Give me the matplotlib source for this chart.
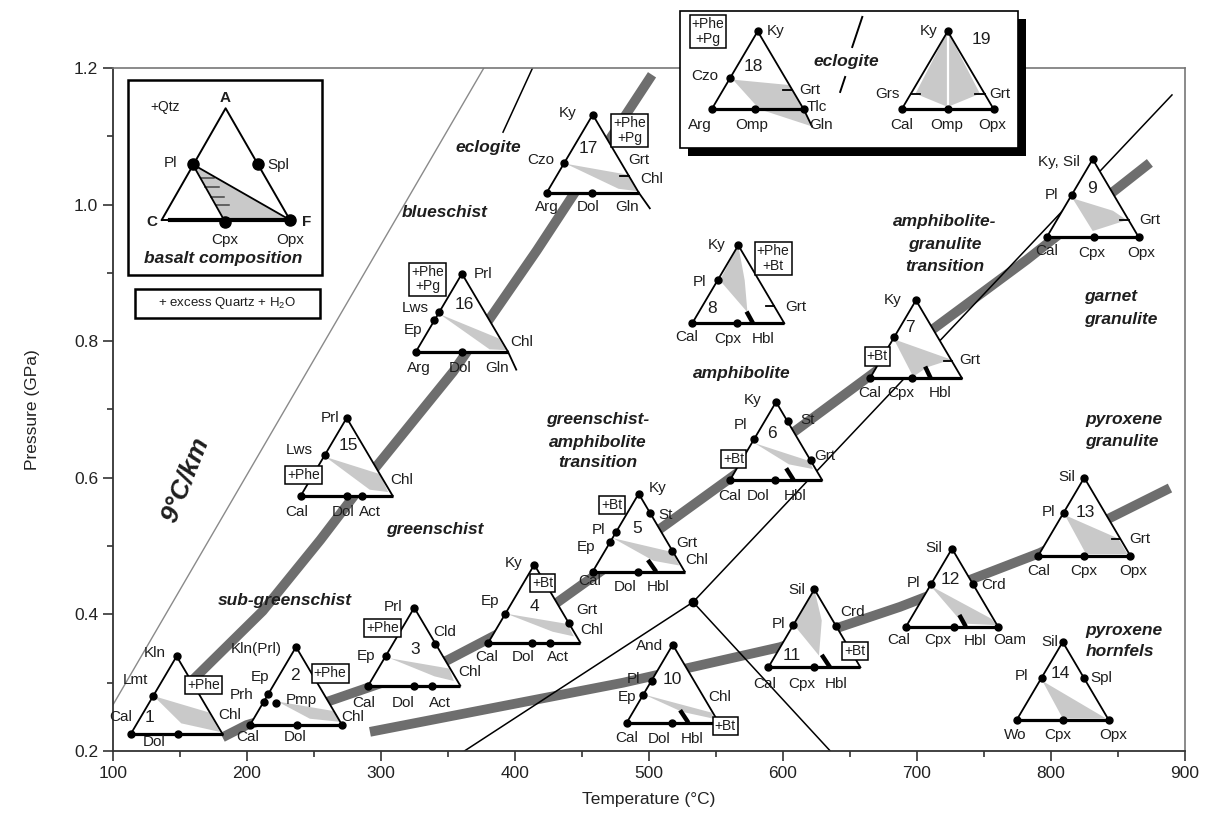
import matplotlib
matplotlib.use("Agg")
import matplotlib.pyplot as plt
from matplotlib.patches import Polygon, Rectangle

plt.rcParams['font.family'] = ['Liberation Sans', 'DejaVu Sans']
plt.rcParams['mathtext.fontset'] = 'custom'
plt.rcParams['mathtext.rm'] = 'Liberation Sans'
plt.rcParams['mathtext.it'] = 'Liberation Sans:italic'
plt.rcParams['mathtext.bf'] = 'Liberation Sans:bold'

# ---------------- axes data ----------------
x_ticks = [100, 200, 300, 400, 500, 600, 700, 800, 900]
x_minor = [150, 250, 350, 450, 550, 650, 750, 850]
y_ticks = [0.2, 0.4, 0.6, 0.8, 1.0, 1.2]
y_minor = [0.3, 0.5, 0.7, 0.9, 1.1]
y_tick_labels = ["0.2", "0.4", "0.6", "0.8", "1.0", "1.2"]

# ---------------- P-T paths (thick grey) ----------------
hp_T = [157.7, 212.0, 255.0, 297.0, 354.0, 416.6, 502.5]
hp_P = [0.300, 0.405, 0.509, 0.617, 0.755, 0.933, 1.190]
mp_T = [182, 200, 260, 350, 430, 514, 600, 700, 782, 874]
mp_P = [0.220, 0.238, 0.272, 0.333, 0.415, 0.533, 0.655, 0.800, 0.919, 1.061]
lp_T = [292, 481, 598, 687.5, 792, 889]
lp_P = [0.228, 0.300, 0.352, 0.411, 0.490, 0.585]

# 9 C/km geotherm
geo_T = [98, 377]
geo_P = [0.26, 1.2]

# Al2SiO5 triple point and reactions
tp_T, tp_P = 533.1, 0.418
kyand_T = [533.1, 362.5]; kyand_P = [0.418, 0.2]
andsil_T = [533.1, 635.5]; andsil_P = [0.418, 0.2]
kysil_T = [533.1, 890.5]; kysil_P = [0.418, 1.1605]
eclo_T = [391.3, 413.7]; eclo_P = [1.106, 1.2015]

# ---------------- triangles ----------------
W, H = 68.7, 0.1142
tri_num = [str(i) for i in range(1, 20)]
tri_T0 = [113.4, 202.5, 290.7, 380.3, 458.2, 560.7, 665.1, 532.5, 797.0, 483.6,
          589.3, 692.0, 790.7, 774.6, 240.3, 326.3, 423.9, 547.0, 688.8]
tri_P0 = [0.2245, 0.2381, 0.2956, 0.3586, 0.4625, 0.5968, 0.7457, 0.8262, 0.9521, 0.2414,
          0.3225, 0.3820, 0.4859, 0.2454, 0.5734, 0.7846, 1.0174, 1.1395, 1.1395]
tri_num_uv = [(0.21, 0.21), (0.49, 0.63), (0.51, 0.46), (0.50, 0.46), (0.48, 0.56),
              (0.46, 0.60), (0.43, 0.65), (0.21, 0.19), (0.49, 0.62), (0.49, 0.55),
              (0.25, 0.15), (0.48, 0.60), (0.51, 0.56), (0.47, 0.60), (0.52, 0.65),
              (0.53, 0.60), (0.45, 0.57), (0.45, 0.55), (0.87, 0.89)]
tri_labels = [
    [("Kln", 0.26, 1.04), ("Lmt", 0.05, 0.70), ("Cal", -0.11, 0.22), ("Dol", 0.26, -0.10), ("Chl", 1.08, 0.25)],
    [("Kln(Prl)", 0.065, 0.98), ("Ep", 0.11, 0.62), ("Prh", -0.09, 0.385), ("Pmp", 0.56, 0.32),
     ("Cal", -0.02, -0.15), ("Dol", 0.49, -0.15), ("Chl", 1.12, 0.10)],
    [("Prl", 0.27, 1.01), ("Cld", 0.83, 0.69), ("Ep", -0.02, 0.38), ("Chl", 1.10, 0.18),
     ("Cal", -0.05, -0.22), ("Dol", 0.38, -0.22), ("Act", 0.78, -0.22)],
    [("Ky", 0.27, 1.02), ("Ep", 0.02, 0.53), ("Grt", 1.07, 0.42), ("Chl", 1.12, 0.16),
     ("Cal", -0.02, -0.18), ("Dol", 0.38, -0.18), ("Act", 0.76, -0.18)],
    [("Ky", 0.71, 1.07), ("St", 0.79, 0.73), ("Pl", 0.06, 0.53), ("Ep", -0.07, 0.32), ("Grt", 1.02, 0.37),
     ("Chl", 1.13, 0.15), ("Cal", -0.03, -0.12), ("Dol", 0.35, -0.20), ("Hbl", 0.71, -0.20)],
    [("Ky", 0.25, 1.03), ("St", 0.84, 0.77), ("Pl", 0.11, 0.71), ("Grt", 1.03, 0.31),
     ("Cal", 0.0, -0.20), ("Dol", 0.31, -0.20), ("Hbl", 0.71, -0.20)],
    [("Ky", 0.25, 1.00), ("Grt", 1.09, 0.24), ("Cal", 0.0, -0.19), ("Cpx", 0.34, -0.19), ("Hbl", 0.76, -0.19)],
    [("Ky", 0.27, 1.00), ("Pl", 0.08, 0.53), ("Grt", 1.12, 0.21), ("Cal", -0.06, -0.17),
     ("Cpx", 0.39, -0.20), ("Hbl", 0.77, -0.20)],
    [("Ky, Sil", 0.13, 0.97), ("Pl", 0.05, 0.54), ("Grt", 1.12, 0.22), ("Cal", 0.0, -0.18),
     ("Cpx", 0.49, -0.20), ("Opx", 1.03, -0.20)],
    [("And", 0.25, 0.98), ("Pl", 0.07, 0.56), ("Ep", 0.0, 0.33), ("Chl", 1.01, 0.33),
     ("Cal", 0.0, -0.20), ("Dol", 0.35, -0.21), ("Hbl", 0.71, -0.21)],
    [("Sil", 0.31, 0.99), ("Crd", 0.91, 0.71), ("Pl", 0.11, 0.56), ("Cal", -0.04, -0.21),
     ("Cpx", 0.36, -0.21), ("Hbl", 0.74, -0.21)],
    [("Sil", 0.30, 1.01), ("Pl", 0.08, 0.56), ("Crd", 0.95, 0.53), ("Cal", -0.08, -0.17),
     ("Cpx", 0.35, -0.17), ("Hbl", 0.75, -0.19), ("Oam", 1.13, -0.17)],
    [("Sil", 0.31, 1.01), ("Pl", 0.11, 0.56), ("Grt", 1.10, 0.22), ("Cal", 0.0, -0.20),
     ("Cpx", 0.49, -0.20), ("Opx", 1.03, -0.20)],
    [("Sil", 0.36, 1.00), ("Pl", 0.05, 0.56), ("Spl", 0.92, 0.54), ("Wo", -0.02, -0.19),
     ("Cpx", 0.45, -0.19), ("Opx", 1.05, -0.19)],
    [("Prl", 0.32, 1.00), ("Lws", -0.01, 0.59), ("Chl", 1.10, 0.21), ("Cal", -0.04, -0.21),
     ("Dol", 0.46, -0.21), ("Act", 0.75, -0.21)],
    [("Prl", 0.73, 1.00), ("Lws", -0.01, 0.56), ("Ep", -0.03, 0.28), ("Chl", 1.15, 0.13),
     ("Arg", 0.03, -0.21), ("Dol", 0.48, -0.21), ("Gln", 0.88, -0.21)],
    [("Ky", 0.23, 1.02), ("Czo", -0.07, 0.42), ("Grt", 1.00, 0.42), ("Chl", 1.14, 0.18),
     ("Arg", 0.0, -0.18), ("Dol", 0.45, -0.18), ("Gln", 0.87, -0.18)],
    [("Ky", 0.69, 1.00), ("Czo", -0.07, 0.43), ("Grt", 1.07, 0.25), ("Tlc", 1.14, 0.03),
     ("Gln", 1.19, -0.20), ("Arg", -0.13, -0.20), ("Omp", 0.43, -0.20)],
    [("Ky", 0.29, 1.00), ("Grs", -0.15, 0.20), ("Grt", 1.07, 0.20), ("Cal", 0.0, -0.20),
     ("Omp", 0.49, -0.20), ("Opx", 0.98, -0.20)],
]
tri_dots = [
    [(0.5, 1), (0.245, 0.49), (0, 0), (0.51, 0)],
    [(0.5, 1), (0.15, 0.30), (0.20, 0.40), (0.28, 0.28), (0, 0), (0.51, 0), (1, 0)],
    [(0.5, 1), (0.73, 0.54), (0.19, 0.38), (0, 0), (0.50, 0), (0.69, 0)],
    [(0.5, 1), (0.185, 0.37), (0.875, 0.25), (0, 0), (0.48, 0), (0.67, 0)],
    [(0.5, 1), (0.625, 0.75), (0.255, 0.51), (0.19, 0.38), (0.865, 0.27), (0, 0), (0.49, 0)],
    [(0.5, 1), (0.625, 0.75), (0.26, 0.52), (0.875, 0.25), (0, 0), (0.49, 0)],
    [(0.5, 1), (0.265, 0.53), (0, 0), (0.46, 0)],
    [(0.5, 1), (0.275, 0.55), (0, 0), (0.49, 0)],
    [(0.5, 1), (0.27, 0.54), (0, 0), (0.51, 0), (1, 0)],
    [(0.5, 1), (0.27, 0.54), (0.175, 0.35), (0, 0), (0.49, 0)],
    [(0.5, 1), (0.735, 0.53), (0.27, 0.54), (0, 0), (0.50, 0)],
    [(0.5, 1), (0.275, 0.55), (0.725, 0.55), (0, 0), (0.52, 0), (1, 0)],
    [(0.5, 1), (0.275, 0.55), (0, 0), (0.50, 0), (1, 0)],
    [(0.5, 1), (0.27, 0.54), (0.73, 0.54), (0, 0), (0.50, 0), (1, 0)],
    [(0.5, 1), (0.265, 0.53), (0, 0), (0.50, 0), (0.67, 0)],
    [(0.5, 1), (0.255, 0.51), (0.20, 0.40), (0, 0), (0.50, 0)],
    [(0.5, 1), (0.19, 0.38), (0, 0), (0.49, 0)],
    [(0.5, 1), (0.20, 0.40), (0, 0), (0.47, 0), (1, 0)],
    [(0.5, 1), (0, 0), (0.50, 0), (1, 0)],
]
tri_gray = [
    [(0.25, 0.49), (0.85, 0.28), (0.97, 0.03), (0.55, 0.14)],
    [(0.30, 0.30), (0.90, 0.18), (0.98, 0.04), (0.65, 0.08)],
    [(0.24, 0.35), (0.88, 0.22), (0.93, 0.06), (0.72, 0.12)],
    [(0.20, 0.37), (0.86, 0.24), (0.93, 0.08), (0.70, 0.14)],
    [(0.22, 0.43), (0.87, 0.25), (0.94, 0.08), (0.66, 0.14)],
    [(0.27, 0.47), (0.87, 0.24), (0.90, 0.14), (0.64, 0.20)],
    [(0.26, 0.50), (0.88, 0.24), (0.62, 0.14), (0.47, 0.02)],
    [(0.50, 1.00), (0.30, 0.55), (0.60, 0.14), (0.57, 0.55)],
    [(0.28, 0.50), (0.50, 0.08), (0.87, 0.22), (0.72, 0.34)],
    [(0.19, 0.36), (0.92, 0.13), (0.95, 0.05), (0.60, 0.14)],
    [(0.50, 1.00), (0.28, 0.54), (0.55, 0.15), (0.58, 0.60)],
    [(0.27, 0.52), (0.93, 0.10), (0.98, 0.02), (0.62, 0.04)],
    [(0.29, 0.52), (0.52, 0.02), (0.97, 0.02), (0.87, 0.22)],
    [(0.28, 0.50), (0.50, 0.02), (0.97, 0.02)],
    [(0.27, 0.50), (0.86, 0.28), (0.95, 0.05), (0.75, 0.08)],
    [(0.26, 0.48), (0.90, 0.17), (0.98, 0.02), (0.80, 0.03)],
    [(0.21, 0.37), (0.88, 0.23), (0.98, 0.02), (0.78, 0.05)],
    [(0.23, 0.38), (0.85, 0.31), (1.00, 0.00), (1.09, -0.22), (0.52, 0.00)],
    [(0.50, 1.00), (0.15, 0.20), (0.50, 0.03), (0.85, 0.20)],
]
tri_boxes = [
    [("+Phe", 0.79, 0.63)], [("+Phe", 0.87, 0.66)], [("+Phe", 0.16, 0.74)], [("+Bt", 0.59, 0.76)],
    [("+Bt", 0.21, 0.85)], [("+Bt", 0.04, 0.27)], [("+Bt", 0.08, 0.28)], [("+Phe\n+Bt", 0.88, 0.83)],
    [], [("+Bt", 1.07, -0.04)], [("+Bt", 0.94, 0.21)], [], [], [], [("+Phe", 0.03, 0.27)],
    [("+Phe\n+Pg", 0.13, 0.93)], [("+Phe\n+Pg", 0.90, 0.80)], [("+Phe\n+Pg", -0.04, 1.00)], [],
]
tri_ticks = [
    [], [], [], [], [], [], [(0.89, 0.22, 0.80, 0.22)], [(0.89, 0.22, 0.80, 0.22)],
    [(0.89, 0.22, 0.80, 0.22)], [], [], [], [(0.89, 0.22, 0.80, 0.22)], [], [],
    [(1.0, 0.0, 1.09, -0.23)], [(0.89, 0.22, 0.80, 0.22), (1.0, 0.0, 1.12, -0.20)],
    [(0.875, 0.25, 0.78, 0.25), (1.0, 0.0, 1.09, -0.22)],
    [(0.10, 0.20, 0.20, 0.20), (0.90, 0.20, 0.80, 0.20)],
]
tri_bars = [
    [], [], [], [], [(0.60, 0.15, 0.69, 0.0)], [(0.61, 0.15, 0.69, 0.0)], [(0.60, 0.15, 0.66, 0.0)],
    [(0.59, 0.15, 0.66, 0.0)], [], [(0.58, 0.16, 0.67, 0.0)], [(0.58, 0.16, 0.67, 0.0)],
    [(0.58, 0.15, 0.65, 0.0)], [], [], [], [], [], [], [],
]
tri_inset = [False] * 17 + [True, True]

# ---------------- insets ----------------
hp_box = (523.4, 1.083, 252.2, 0.200)
inset_eclo_T = [[659.4, 651.9], [646.6, 642.9]]
inset_eclo_P = [[1.2747, 1.2307], [1.1868, 1.1649]]

bas_box = (111.6, 0.897, 144.4, 0.285)
bas_A = (184.3, 1.141); bas_C = (136.6, 0.9775); bas_F = (232.3, 0.9775)
bas_Pl = (159.7, 1.059); bas_Spl = (208.7, 1.059); bas_Cpx = (183.8, 0.975)
bas_hatch_T = [[165.6, 175.5], [169.1, 179.0], [173.3, 183.2], [176.8, 186.7]]
bas_hatch_P = [1.0385, 1.0262, 1.0116, 0.9994]
bas_text = [("+Qtz", 139.0, 1.143, 'normal'), ("A", 184.3, 1.156, 'bold'), ("Pl", 142.8, 1.061, 'normal'),
            ("Spl", 223.4, 1.058, 'normal'), ("C", 129.1, 0.975, 'bold'), ("F", 244.8, 0.975, 'bold'),
            ("Cpx", 183.8, 0.948, 'normal'), ("Opx", 232.3, 0.948, 'normal')]
qz_box = (116.6, 0.834, 138.1, 0.043)

facies = [
    ("eclogite", 380.4, 1.083, 'center'), ("blueschist", 348.0, 0.989, 'center'),
    ("sub-greenschist", 228.6, 0.421, 'center'), ("greenschist", 340.5, 0.524, 'center'),
    ("greenschist-", 462.2, 0.685, 'center'), ("amphibolite", 462.2, 0.652, 'center'),
    ("transition", 462.2, 0.622, 'center'), ("amphibolite", 569.4, 0.753, 'center'),
    ("amphibolite-", 721.0, 0.975, 'center'), ("granulite", 721.0, 0.941, 'center'),
    ("transition", 721.0, 0.909, 'center'), ("garnet", 825.0, 0.865, 'left'),
    ("granulite", 825.0, 0.831, 'left'), ("pyroxene", 825.5, 0.686, 'left'),
    ("granulite", 825.5, 0.653, 'left'), ("pyroxene", 826.0, 0.377, 'left'),
    ("hornfels", 826.0, 0.345, 'left'), ("eclogite", 647.2, 1.209, 'center'),
]

GRAY_THICK = '#6e6e6e'
GRAY_FILL = '#c9c9c9'
TXT = '#1e1e1e'

fig = plt.figure(figsize=(12.10, 8.39), dpi=100)
ax = fig.add_axes([0.0931, 0.1049, 0.8860, 0.8141])
ax.set_xlim(100, 900)
ax.set_ylim(0.2, 1.2)
ax.set_xticks(x_ticks)
ax.set_xticks(x_minor, minor=True)
ax.set_yticks(y_ticks)
ax.set_yticklabels(y_tick_labels)
ax.set_yticks(y_minor, minor=True)
ax.tick_params(axis='both', which='major', direction='out', length=7, width=1.1, labelsize=12.5, colors='#222')
ax.tick_params(axis='both', which='minor', direction='out', length=4.5, width=1.1, colors='#222')
for s in ['left', 'bottom']:
    ax.spines[s].set_linewidth(1.3)
    ax.spines[s].set_color('#333')
for s in ['top', 'right']:
    ax.spines[s].set_linewidth(1.2)
    ax.spines[s].set_color('#777')
ax.set_xlabel('Temperature (°C)', fontsize=12.5, color='#222', labelpad=8)
ax.set_ylabel('Pressure (GPa)', fontsize=12.5, color='#222', labelpad=24)

# lines
ax.plot(geo_T, geo_P, color='#8a8a8a', lw=1.0, zorder=1)
for T, P in [(hp_T, hp_P), (mp_T, mp_P), (lp_T, lp_P)]:
    ax.plot(T, P, color=GRAY_THICK, lw=7, solid_capstyle='butt', solid_joinstyle='round', zorder=1.5)
for T, P in [(kyand_T, kyand_P), (andsil_T, andsil_P), (kysil_T, kysil_P), (eclo_T, eclo_P)]:
    ax.plot(T, P, color='k', lw=1.1, zorder=2)
ax.plot([tp_T], [tp_P], 'o', color='k', ms=6, zorder=2.1)

ax.text(154.3, 0.597, '9°C/km', rotation=68, fontsize=19, fontweight='bold', fontstyle='italic',
        color=TXT, ha='center', va='center', zorder=3)

# top inset box with shadow
bx, by, bw, bh = hp_box
sx, sy = 8 / 1.34, 8 / 683
ax.add_patch(Rectangle((bx + sx, by - sy), bw, bh, fc='k', ec='none', zorder=9.8, clip_on=False))
ax.add_patch(Rectangle((bx, by), bw, bh, fc='white', ec='k', lw=1.2, zorder=9.9, clip_on=False))
for T, P in zip(inset_eclo_T, inset_eclo_P):
    ax.plot(T, P, color='k', lw=1.4, zorder=10.5, clip_on=False)

# triangles
for i in range(19):
    z = 11 if tri_inset[i] else 3
    T0, P0 = tri_T0[i], tri_P0[i]

    def xy(u, v):
        return (T0 + u * W, P0 + v * H)

    A, B, C = xy(0, 0), xy(1, 0), xy(0.5, 1)
    ax.add_patch(Polygon([A, B, C], closed=True, fc='white', ec='none', zorder=z, clip_on=False))
    ax.add_patch(Polygon([xy(*p) for p in tri_gray[i]], closed=True, fc=GRAY_FILL, ec='none',
                         zorder=z + 0.1, clip_on=False))
    if i == 18:
        ax.plot([C[0], C[0]], [C[1], A[1]], color='white', lw=1.6, zorder=z + 0.15, clip_on=False)
    ax.plot([A[0], C[0], B[0]], [A[1], C[1], B[1]], color='k', lw=1.3, zorder=z + 0.3, clip_on=False)
    ax.plot([A[0], B[0]], [A[1], B[1]], color='k', lw=2.3, solid_capstyle='butt', zorder=z + 0.3, clip_on=False)
    for (u1, v1, u2, v2) in tri_ticks[i]:
        p1, p2 = xy(u1, v1), xy(u2, v2)
        ax.plot([p1[0], p2[0]], [p1[1], p2[1]], color='k', lw=1.3, zorder=z + 0.3, clip_on=False)
    for (u1, v1, u2, v2) in tri_bars[i]:
        p1, p2 = xy(u1, v1), xy(u2, v2)
        ax.plot([p1[0], p2[0]], [p1[1], p2[1]], color='k', lw=3.2, solid_capstyle='butt',
                zorder=z + 0.35, clip_on=False)
    dT = [xy(u, v)[0] for u, v in tri_dots[i]]
    dP = [xy(u, v)[1] for u, v in tri_dots[i]]
    ax.plot(dT, dP, 'o', color='k', ms=5, zorder=z + 0.4, clip_on=False)
    for (t, u, v) in tri_labels[i]:
        px, py = xy(u, v)
        ax.text(px, py, t, fontsize=11, color=TXT, ha='center', va='center', zorder=z + 0.5, clip_on=False)
    nx, ny = xy(*tri_num_uv[i])
    ax.text(nx, ny, tri_num[i], fontsize=12.5, color=TXT, ha='center', va='center', zorder=z + 0.5, clip_on=False)
    for (t, u, v) in tri_boxes[i]:
        px, py = xy(u, v)
        ax.text(px, py, t, fontsize=10, color=TXT, ha='center', va='center', linespacing=1.05,
                zorder=z + 0.6, clip_on=False,
                bbox=dict(boxstyle='square,pad=0.15', fc='white', ec='k', lw=1.1))

# basalt composition inset
x0, y0, w0, h0 = bas_box
ax.add_patch(Rectangle((x0, y0), w0, h0, fc='white', ec='k', lw=1.8, zorder=10, clip_on=False))
ax.add_patch(Polygon([bas_Pl, bas_Cpx, bas_F], closed=True, fc=GRAY_FILL, ec='none', zorder=10.1))
for T, P in zip(bas_hatch_T, bas_hatch_P):
    ax.plot(T, [P, P], color='#444', lw=1.1, zorder=10.2)
ax.plot([bas_C[0], bas_A[0], bas_F[0]], [bas_C[1], bas_A[1], bas_F[1]], color='k', lw=1.4, zorder=10.3)
ax.plot([bas_C[0], bas_F[0]], [bas_C[1], bas_F[1]], color='k', lw=1.4, zorder=10.3)
ax.plot([bas_C[0] + 6, bas_F[0]], [bas_C[1], bas_F[1]], color='k', lw=3.0, zorder=10.3)
ax.plot([bas_Pl[0], bas_F[0]], [bas_Pl[1], bas_F[1]], color='k', lw=1.3, zorder=10.3)
ax.plot([bas_Pl[0], bas_Cpx[0]], [bas_Pl[1], bas_Cpx[1]], color='k', lw=1.3, zorder=10.3)
ax.plot([bas_Pl[0], bas_Spl[0], bas_Cpx[0], bas_F[0]], [bas_Pl[1], bas_Spl[1], bas_Cpx[1], bas_F[1]],
        'o', color='k', ms=8, zorder=10.4)
for (t, px, py, fw) in bas_text:
    ax.text(px, py, t, fontsize=11 if t != '+Qtz' else 10, fontweight=fw, color=TXT,
            ha='center', va='center', zorder=10.5)
ax.text(182.5, 0.921, 'basalt composition', fontsize=12.5, fontweight='bold', fontstyle='italic',
        color=TXT, ha='center', va='center', zorder=10.5)
qx, qy, qw, qh = qz_box
ax.add_patch(Rectangle((qx, qy), qw, qh, fc='white', ec='k', lw=1.8, zorder=10, clip_on=False))
ax.text(qx + qw / 2, qy + qh / 2, '+ excess Quartz + H$_2$O', fontsize=9.5, color=TXT,
        ha='center', va='center', zorder=10.5)

# facies names
for (t, px, py, ha) in facies:
    zz = 10.6 if py > 1.2 else 8
    ax.text(px, py, t, fontsize=12.5, fontweight='bold', fontstyle='italic', color=TXT,
            ha=ha, va='center', zorder=zz, clip_on=False)

fig.savefig('out.png', dpi=100)
